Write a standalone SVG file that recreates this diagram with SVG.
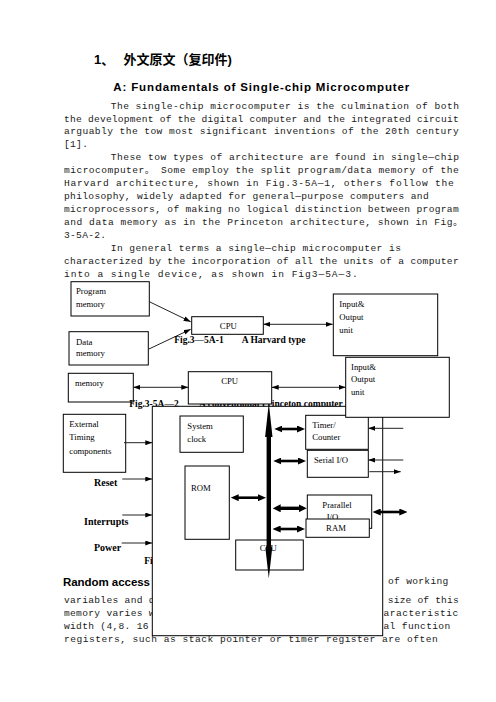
<svg xmlns="http://www.w3.org/2000/svg" width="496" height="702" viewBox="0 0 496 702">
<style>
.b{font-family:"Liberation Mono","Noto Sans CJK SC",monospace;font-size:9.6px;fill:#1a1a1a;letter-spacing:0.3px}
.h{font-family:"Liberation Sans","Noto Sans CJK SC",sans-serif;font-weight:bold;fill:#000}
.l{font-family:"Liberation Serif",serif;font-size:8.7px;fill:#000}
.c{font-family:"Liberation Serif",serif;font-size:9.5px;font-weight:bold;fill:#000}
.s{font-family:"Liberation Serif",serif;font-size:10px;font-weight:bold;fill:#000}
.bx{fill:#fff;stroke:#000;stroke-width:1}
.ln{stroke:#222;stroke-width:1;fill:none}
.tk{stroke:#000;stroke-width:2.6;fill:none}
.tk2{stroke:#000;stroke-width:3.4;fill:none}
</style>
<defs>
<marker id="ah" viewBox="0 0 7 5" refX="7" refY="2.5" markerWidth="7" markerHeight="5" markerUnits="userSpaceOnUse" orient="auto-start-reverse"><path d="M0,0 L7,2.5 L0,5 z" fill="#000"/></marker>
<marker id="bh" viewBox="0 0 8 7" refX="4" refY="3.5" markerWidth="8" markerHeight="7" markerUnits="userSpaceOnUse" orient="auto-start-reverse"><path d="M0,0 L8,3.5 L0,7 z" fill="#000"/></marker>
<marker id="bh2" viewBox="0 0 8 8" refX="4" refY="4" markerWidth="8" markerHeight="8" markerUnits="userSpaceOnUse" orient="auto-start-reverse"><path d="M0,0 L8,4 L0,8 z" fill="#000"/></marker>
</defs>

<g id="heading">
<text class="h" x="94" y="64" font-size="13">1、</text>
<text class="h" x="123.5" y="64" font-size="13">外文原文（复印件)</text>
<text class="h" x="113.3" y="91" font-size="11.5" textLength="296" lengthAdjust="spacing">A: Fundamentals of Single-chip Microcomputer</text>
</g>

<g id="body-text" xml:space="preserve">
<text class="b" x="110.7" y="108.5" textLength="348.5" lengthAdjust="spacing">The single-chip microcomputer is the culmination of both</text>
<text class="b" x="64" y="121.8" textLength="395" lengthAdjust="spacing">the development of the digital computer and the integrated circuit</text>
<text class="b" x="64" y="134.2" textLength="395" lengthAdjust="spacing">arguably the tow most significant inventions of the 20th century</text>
<text class="b" x="64" y="147.3">[1].</text>
<text class="b" x="110.7" y="159.8" textLength="348.5" lengthAdjust="spacing">These tow types of architecture are found in single—chip</text>
<text class="b" x="64" y="173.2" textLength="395" lengthAdjust="spacing">microcomputer。 Some employ the split program/data memory of the</text>
<text class="b" x="64" y="185.8" textLength="390" lengthAdjust="spacing">Harvard architecture, shown in Fig.3-5A—1,  others follow the</text>
<text class="b" x="64" y="199.2" textLength="365" lengthAdjust="spacing">philosophy, widely adapted for general—purpose computers and</text>
<text class="b" x="64" y="211.8" textLength="395" lengthAdjust="spacing">microprocessors, of making no logical distinction between program</text>
<text class="b" x="64" y="225.2" textLength="399" lengthAdjust="spacing">and data memory as in the Princeton architecture, shown in Fig。</text>
<text class="b" x="64" y="237.5">3-5A-2.</text>
<text class="b" x="110.7" y="250.8" textLength="290.5" lengthAdjust="spacing">In general terms a single—chip microcomputer is</text>
<text class="b" x="64" y="264.3" textLength="395" lengthAdjust="spacing">characterized by the incorporation of all the units of a computer</text>
<text class="b" x="64" y="277.2" textLength="294" lengthAdjust="spacing">into a single device,  as shown in Fig3—5A—3.</text>
<text class="h" x="63" y="585.5" font-size="11.5" textLength="87" lengthAdjust="spacing">Random access</text>
<text class="b" x="388" y="584.2">of working</text>
<text class="b" x="64" y="603.2">variables and d</text>
<text class="b" x="376" y="603.2" textLength="83" lengthAdjust="spacing">e size of this</text>
<text class="b" x="64" y="615.8">memory varies w</text>
<text class="b" x="383.5" y="615.8" textLength="75" lengthAdjust="spacing">aracteristic</text>
<text class="b" x="64" y="628.5">width (4,8. 16</text>
<text class="b" x="383.5" y="628.5" textLength="67" lengthAdjust="spacing">al function</text>
<text class="b" x="64" y="641.8" textLength="374" lengthAdjust="spacing">registers, such as stack pointer or timer register are often</text>
<text class="c" x="144.3" y="564">Fi</text>
</g>

<!-- Fig 3-5A-1 Harvard -->
<g id="connectors-fig1">
<line class="ln" x1="149.3" y1="301.7" x2="190.7" y2="321.7" marker-end="url(#ah)"/>
<line class="ln" x1="148.3" y1="349.3" x2="190.7" y2="329.3" marker-end="url(#ah)"/>
<line class="ln" x1="263.3" y1="324.3" x2="332.7" y2="324.3" marker-start="url(#ah)" marker-end="url(#ah)"/>
</g>
<g id="program-memory">
<rect class="bx" x="71" y="281.7" width="78.3" height="34.3"/>
<text class="l" x="76" y="294.4">Program</text>
<text class="l" x="76" y="306.5">memory</text>
</g>
<g id="data-memory">
<rect class="bx" x="69" y="331.7" width="79.3" height="33.3"/>
<text class="l" x="76" y="344.5">Data</text>
<text class="l" x="76" y="356.4">memory</text>
</g>
<g id="cpu-harvard">
<rect class="bx" x="191.7" y="316.7" width="71.6" height="17.6"/>
<text class="l" x="228.3" y="329" text-anchor="middle">CPU</text>
</g>
<g id="io-harvard">
<rect class="bx" x="333.3" y="294" width="104.4" height="61.7"/>
<text class="l" x="339.3" y="306.8">Input&amp;</text>
<text class="l" x="339.3" y="320.2">Output</text>
<text class="l" x="339.3" y="333.3">unit</text>
</g>
<text class="c" x="174.3" y="343.3">Fig.3—5A-1<tspan x="241.7">A Harvard type</tspan></text>

<!-- Fig 3-5A-2 Princeton -->
<g id="connectors-fig2">
<line class="ln" x1="133.3" y1="387.3" x2="188.3" y2="387.3" marker-start="url(#ah)" marker-end="url(#ah)"/>
<line class="ln" x1="271.7" y1="387.3" x2="345.7" y2="387.3" marker-start="url(#ah)" marker-end="url(#ah)"/>
</g>
<g id="memory-princeton">
<rect class="bx" x="68.3" y="373.3" width="65" height="28.7"/>
<text class="l" x="75" y="385.6">memory</text>
</g>
<text class="c" x="129.3" y="407">Fig.3-5A—2<tspan x="199">A conventional Princeton computer</tspan></text>
<g id="cpu-princeton">
<rect class="bx" x="188.3" y="371.7" width="83.4" height="32.3"/>
<text class="l" x="229.7" y="383.6" text-anchor="middle">CPU</text>
</g>

<!-- Fig 3-5A-3 single chip -->
<g id="chip">
<rect class="bx" x="152.3" y="406.3" width="230.4" height="229.4"/>
</g>
<g id="external-timing">
<rect class="bx" x="63.3" y="414.3" width="62.4" height="58"/>
<text class="l" x="69.3" y="426.8">External</text>
<text class="l" x="69.3" y="440">Timing</text>
<text class="l" x="69.3" y="453.6">components</text>
</g>
<g id="inputs-left">
<text class="s" x="94" y="485.8">Reset</text>
<text class="s" x="84" y="525">Interrupts</text>
<text class="s" x="94" y="550.5">Power</text>
</g>
<g id="system-clock">
<rect class="bx" x="180" y="416" width="63.3" height="36.3"/>
<text class="l" x="187.3" y="428.5">System</text>
<text class="l" x="187.3" y="441.8">clock</text>
</g>
<g id="rom">
<rect class="bx" x="185" y="466" width="44.3" height="73.3"/>
<text class="l" x="191" y="491.2">ROM</text>
</g>
<g id="cpu-chip">
<rect class="bx" x="235.7" y="540" width="67.6" height="30"/>
<text class="l" x="268.3" y="551.2" text-anchor="middle">CPU</text>
</g>
<g id="timer-counter">
<rect class="bx" x="305.7" y="415.3" width="62.6" height="34"/>
<text class="l" x="312.3" y="427.8">Timer/</text>
<text class="l" x="312.3" y="440.3">Counter</text>
</g>
<g id="serial-io">
<rect class="bx" x="307.3" y="450.3" width="61" height="27"/>
<text class="l" x="314" y="462.8">Serial I/O</text>
</g>
<g id="parallel-io">
<rect class="bx" x="307.3" y="495" width="64.4" height="33.3"/>
<text class="l" x="322.3" y="507.8">Prarallel</text>
<text class="l" x="326.7" y="520.2">I/O</text>
</g>
<g id="ram">
<rect class="bx" x="306" y="519" width="63.3" height="18.3"/>
<text class="l" x="336" y="531.2" text-anchor="middle">RAM</text>
</g>

<g id="connectors-fig3">
<line class="ln" x1="124" y1="442.7" x2="152.3" y2="442.7" marker-end="url(#ah)"/>
<line class="ln" x1="122.3" y1="479" x2="152.3" y2="479" marker-end="url(#ah)"/>
<line class="ln" x1="122.3" y1="515" x2="152.3" y2="515" marker-end="url(#ah)"/>
<line class="ln" x1="121.7" y1="543" x2="152.3" y2="543" marker-end="url(#ah)"/>
<line class="tk" x1="234.7" y1="497.7" x2="262" y2="497.7" marker-start="url(#bh)" marker-end="url(#bh)"/>
<line class="tk" x1="278.3" y1="429" x2="301" y2="429" marker-start="url(#bh)" marker-end="url(#bh)"/>
<line class="tk" x1="277.3" y1="461" x2="302" y2="461" marker-start="url(#bh)" marker-end="url(#bh)"/>
<line class="tk2" x1="276.7" y1="508.3" x2="302.7" y2="508.3" marker-start="url(#bh2)" marker-end="url(#bh2)"/>
<line class="tk" x1="276.7" y1="529" x2="301" y2="529" marker-start="url(#bh)" marker-end="url(#bh)"/>
<path id="bus" d="M268.8,403 L272.5,437 L271,437 L271,546 L272.2,548 L268.8,578.5 L265.4,548 L266.6,546 L266.6,437 L265.1,437 Z" fill="#000"/>
</g>

<g id="io-princeton">
<rect class="bx" x="345.7" y="357.3" width="103.6" height="60"/>
<text class="l" x="351" y="369.5">Input&amp;</text>
<text class="l" x="351" y="382.2">Output</text>
<text class="l" x="351" y="395">unit</text>
</g>

<g id="connectors-right">
<line class="ln" x1="403.3" y1="428.3" x2="368.3" y2="428.3" marker-end="url(#ah)"/>
<line class="ln" x1="403.3" y1="460" x2="368.3" y2="460" marker-end="url(#ah)"/>
<line class="ln" x1="369.3" y1="471.7" x2="400.7" y2="471.7" marker-end="url(#ah)"/>
<line class="tk" x1="376.7" y1="512" x2="403.3" y2="512" marker-start="url(#bh)" marker-end="url(#bh)"/>
</g>
</svg>
